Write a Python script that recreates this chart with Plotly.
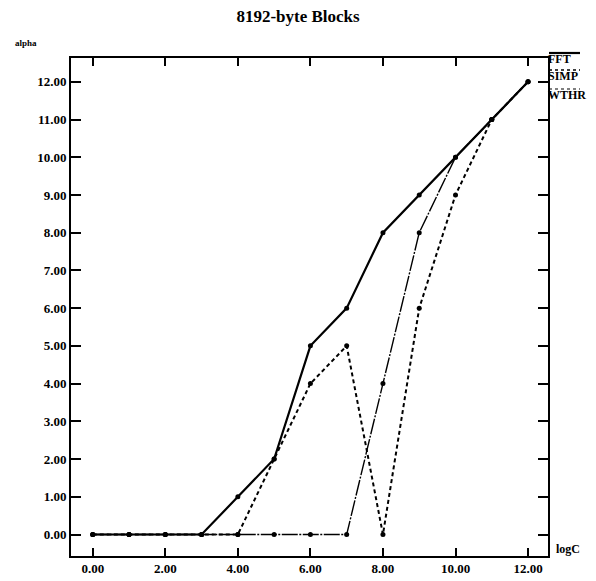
import plotly.graph_objects as go

log_c = [0, 1, 2, 3, 4, 5, 6, 7, 8, 9, 10, 11, 12]
fft = [0, 0, 0, 0, 1, 2, 5, 6, 8, 9, 10, 11, 12]
simp = [0, 0, 0, 0, 0, 2, 4, 5, 0, 6, 9, 11, 12]
wthr = [0, 0, 0, 0, 0, 0, 0, 0, 4, 8, 10, 11, 12]
x_ticks = [0, 2, 4, 6, 8, 10, 12]
y_ticks = list(range(0, 13))

SERIF = "Liberation Serif, Times New Roman, serif"

# the page body adds an 8px margin, so the figure is laid out 8px smaller and offset
OFF = 8
W, H = 596 - OFF, 581 - OFF
L, R, T, B = 71 - OFF, 48, 58 - OFF, 33 - OFF
PW, PH = W - L - R, H - T - B


def px(xp):
    return (xp - OFF - L) / PW


def py(yp):
    return (H - B - (yp - OFF)) / PH


fig = go.Figure()
fig.add_trace(go.Scatter(x=log_c, y=wthr, mode="lines+markers", name="WTHR",
                         line=dict(color="black", width=1.4, dash="16px,1.5px,2px,1.5px"),
                         marker=dict(size=5, color="black")))
fig.add_trace(go.Scatter(x=log_c, y=simp, mode="lines+markers", name="SIMP",
                         line=dict(color="black", width=2, dash="4px,3px"),
                         marker=dict(size=5, color="black")))
fig.add_trace(go.Scatter(x=log_c, y=fft, mode="lines+markers", name="FFT",
                         line=dict(color="black", width=2.2),
                         marker=dict(size=5, color="black")))

axis_common = dict(showgrid=False, zeroline=False, showline=True, linecolor="black",
                   linewidth=1.6, ticks="inside", tickcolor="black", tickwidth=1.5,
                   mirror="ticks", tickformat=".2f",
                   tickfont=dict(family=SERIF, size=13, color="black", weight="bold"))

fig.update_layout(
    width=W, height=H,
    paper_bgcolor="white", plot_bgcolor="white",
    showlegend=False,
    margin=dict(l=L, r=R, t=T, b=B, autoexpand=False),
    title=dict(text="8192-byte Blocks", x=(298 - OFF) / W, xanchor="center",
               y=1 - (16 - OFF) / H, yanchor="middle",
               font=dict(family=SERIF, size=17, color="black", weight="bold")),
    xaxis=dict(range=[-0.6, 12.55], tickvals=x_ticks, ticklen=8, **axis_common),
    yaxis=dict(range=[-0.57, 12.63], tickvals=y_ticks, ticklen=10, **axis_common),
)

# axis titles
fig.add_annotation(text="alpha", xref="paper", yref="paper", x=px(14), y=py(43),
                   xanchor="left", yanchor="middle", showarrow=False, borderpad=0,
                   font=dict(family=SERIF, size=9, color="black", weight="bold"))
fig.add_annotation(text="logC", xref="paper", yref="paper", x=px(555), y=py(549),
                   xanchor="left", yanchor="middle", showarrow=False, borderpad=0,
                   font=dict(family=SERIF, size=12, color="black", weight="bold"))

# legend labels on the right
legend_items = [("FFT", 59, "solid", 2.2), ("SIMP", 76, "dot", 1.6), ("WTHR", 95, "dot", 1.2)]
for name, ypx, dash, w in legend_items:
    fig.add_annotation(text=name, xref="paper", yref="paper", x=px(547), y=py(ypx),
                       xanchor="left", yanchor="middle", showarrow=False, borderpad=0,
                       font=dict(family=SERIF, size=12, color="black", weight="bold"))
    fig.add_shape(type="line", xref="paper", yref="paper",
                  x0=px(549), x1=px(580), y0=py(ypx - 6), y1=py(ypx - 6),
                  line=dict(color="black", width=w, dash=dash))

fig.write_html("out.html")
